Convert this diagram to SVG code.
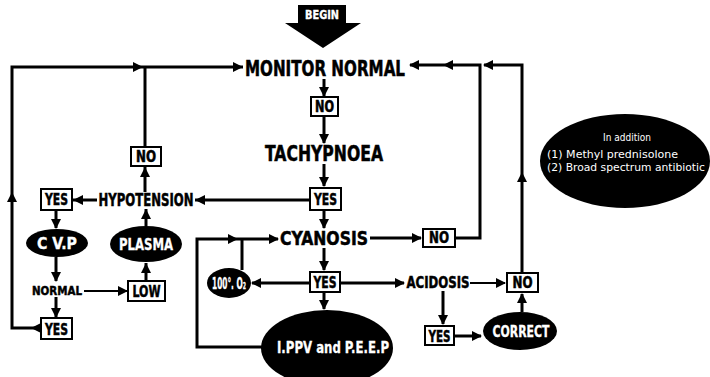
<svg xmlns="http://www.w3.org/2000/svg" xmlns:xlink="http://www.w3.org/1999/xlink" width="710" height="377" viewBox="0 0 710 377">
<style>
.t{font-family:"Liberation Sans Narrow","DejaVu Sans Condensed","Liberation Sans",sans-serif;font-weight:bold;fill:#000;stroke:#000;stroke-width:0.5;text-anchor:middle}
.w{font-family:"Liberation Sans Narrow","DejaVu Sans Condensed","Liberation Sans",sans-serif;font-weight:bold;fill:#fff;stroke:#fff;stroke-width:0.3;text-anchor:middle}
.n{font-family:"Liberation Sans Narrow","DejaVu Sans Condensed","Liberation Sans",sans-serif;fill:#fff}
.box{fill:#fff;stroke:#000;stroke-width:2}
.c{fill:none;stroke:#000;stroke-width:3}
.d{fill:none;stroke:#000;stroke-width:2.2}
</style>
<defs>
<path id="ah" d="M0,0 L-10,-5 L-10,5 Z" fill="#000"/>
</defs>
<rect width="710" height="377" fill="#fff"/>

<g id="begin">
<path d="M298,5 H346 V23 H361 L323,48 L285,23 H298 Z" fill="#000"/>
<text class="w" x="322" y="19" font-size="12" textLength="34" lengthAdjust="spacingAndGlyphs">BEGIN</text>
</g>

<g id="connectors">
<path class="c" d="M40,328 H12 V67 H243"/>
<use href="#ah" transform="translate(31,328) rotate(180)"/>
<use href="#ah" transform="translate(12,192) rotate(-90)"/>
<use href="#ah" transform="translate(143,67)"/>
<use href="#ah" transform="translate(243,67)"/>
<path class="c" d="M145,146 V67"/>
<path class="c" d="M145,192 V167"/>
<use href="#ah" transform="translate(145,167) rotate(-90)"/>
<path class="c" d="M97,200 H73"/>
<use href="#ah" transform="translate(73,200) rotate(180)"/>
<path class="c" d="M310,200 H195"/>
<use href="#ah" transform="translate(195,200) rotate(180)"/>
<path class="c" d="M56,211 V228"/>
<use href="#ah" transform="translate(56,229) rotate(90)"/>
<path class="c" d="M56,257 V281"/>
<use href="#ah" transform="translate(56,282) rotate(90)"/>
<path class="c" d="M56,297 V317"/>
<use href="#ah" transform="translate(56,318) rotate(90)"/>
<path class="d" d="M84,291 H127"/>
<use href="#ah" transform="translate(128,291)"/>
<path class="c" d="M146,281 V263"/>
<use href="#ah" transform="translate(146,263) rotate(-90)"/>
<path class="c" d="M146,226 V209"/>
<use href="#ah" transform="translate(146,209) rotate(-90)"/>
<path class="c" d="M324,79 V96"/>
<use href="#ah" transform="translate(324,97) rotate(90)"/>
<path class="c" d="M324,116 V143"/>
<use href="#ah" transform="translate(324,144) rotate(90)"/>
<path class="c" d="M324,164 V186"/>
<use href="#ah" transform="translate(324,187) rotate(90)"/>
<path class="c" d="M324,211 V228"/>
<use href="#ah" transform="translate(324,229) rotate(90)"/>
<path class="c" d="M324,248 V270"/>
<use href="#ah" transform="translate(324,271) rotate(90)"/>
<path class="c" d="M324,293 V309"/>
<use href="#ah" transform="translate(324,310) rotate(90)"/>
<path class="c" d="M370,238 H421"/>
<use href="#ah" transform="translate(422,238)"/>
<path class="c" d="M455,238 H480 V65 H410"/>
<use href="#ah" transform="translate(409,65) rotate(180)"/>
<use href="#ah" transform="translate(443,65) rotate(180)"/>
<path class="c" d="M522,272 V65 H484"/>
<use href="#ah" transform="translate(522,172) rotate(-90)"/>
<use href="#ah" transform="translate(483,65) rotate(180)"/>
<path class="c" d="M522,312 V294"/>
<use href="#ah" transform="translate(522,293) rotate(-90)"/>
<path class="c" d="M310,283 H252"/>
<use href="#ah" transform="translate(251,283) rotate(180)"/>
<path class="c" d="M340,283 H404"/>
<use href="#ah" transform="translate(405,283)"/>
<path class="d" d="M470,283 H505"/>
<use href="#ah" transform="translate(506,283)"/>
<path class="c" d="M443,291 V324"/>
<use href="#ah" transform="translate(443,325) rotate(90)"/>
<path class="c" d="M454,336 H481"/>
<use href="#ah" transform="translate(482,336)"/>
<path class="c" d="M262,347 H197 V239 H278"/>
<use href="#ah" transform="translate(238,239)"/>
<use href="#ah" transform="translate(279,239)"/>
<path class="c" d="M242,270 V239"/>
</g>

<g id="monitor"><text class="t" x="325" y="76" font-size="21" textLength="160" lengthAdjust="spacingAndGlyphs">MONITOR NORMAL</text></g>
<g id="no1"><rect class="box" x="311" y="97" width="27" height="19"/><text class="t" x="324.5" y="112" font-size="15" textLength="19" lengthAdjust="spacingAndGlyphs">NO</text></g>
<g id="tachypnoea"><text class="t" x="324" y="161" font-size="21" textLength="118" lengthAdjust="spacingAndGlyphs">TACHYPNOEA</text></g>
<g id="yes1"><rect class="box" x="310" y="188" width="31" height="22"/><text class="t" x="325.5" y="205" font-size="16" textLength="23" lengthAdjust="spacingAndGlyphs">YES</text></g>
<g id="hypotension"><text class="t" x="146" y="206" font-size="18" textLength="95" lengthAdjust="spacingAndGlyphs">HYPOTENSION</text></g>
<g id="no2"><rect class="box" x="131" y="147" width="30" height="19"/><text class="t" x="146" y="162" font-size="15" textLength="20" lengthAdjust="spacingAndGlyphs">NO</text></g>
<g id="yes2"><rect class="box" x="41" y="189" width="31" height="21"/><text class="t" x="56.5" y="205" font-size="16" textLength="23" lengthAdjust="spacingAndGlyphs">YES</text></g>
<g id="cvp"><ellipse cx="57" cy="243" rx="31" ry="14" fill="#000"/><text class="w" x="57" y="249" font-size="16" textLength="40" lengthAdjust="spacingAndGlyphs">C V.P</text></g>
<g id="plasma"><ellipse cx="146" cy="244" rx="36" ry="18" fill="#000"/><text class="w" x="146" y="250" font-size="16" textLength="54" lengthAdjust="spacingAndGlyphs">PLASMA</text></g>
<g id="normal"><text class="t" x="57" y="295" font-size="13" textLength="50" lengthAdjust="spacingAndGlyphs">NORMAL</text></g>
<g id="low"><rect class="box" x="128" y="281" width="37" height="20"/><text class="t" x="146.5" y="297" font-size="16" textLength="28" lengthAdjust="spacingAndGlyphs">LOW</text></g>
<g id="yes3"><rect class="box" x="41" y="318" width="31" height="21"/><text class="t" x="56.5" y="335" font-size="16" textLength="23" lengthAdjust="spacingAndGlyphs">YES</text></g>
<g id="cyanosis"><text class="t" x="324" y="245" font-size="20" textLength="88" lengthAdjust="spacingAndGlyphs">CYANOSIS</text></g>
<g id="no3"><rect class="box" x="423" y="229" width="32" height="18"/><text class="t" x="439" y="243" font-size="15" textLength="20" lengthAdjust="spacingAndGlyphs">NO</text></g>
<g id="yes4"><rect class="box" x="310" y="272" width="30" height="20"/><text class="t" x="325" y="288" font-size="16" textLength="23" lengthAdjust="spacingAndGlyphs">YES</text></g>
<g id="oxygen"><ellipse cx="229" cy="283" rx="22" ry="15" fill="#000"/><text class="w" x="229" y="289" font-size="15" textLength="34" lengthAdjust="spacingAndGlyphs">100°. O₂</text></g>
<g id="acidosis"><text class="t" x="438" y="288" font-size="16" textLength="63" lengthAdjust="spacingAndGlyphs">ACIDOSIS</text></g>
<g id="no4"><rect class="box" x="507" y="273" width="31" height="19"/><text class="t" x="522.5" y="288" font-size="15" textLength="20" lengthAdjust="spacingAndGlyphs">NO</text></g>
<g id="yes5"><rect class="box" x="425" y="326" width="29" height="19"/><text class="t" x="439.5" y="342" font-size="16" textLength="22" lengthAdjust="spacingAndGlyphs">YES</text></g>
<g id="correct"><ellipse cx="520" cy="331" rx="37" ry="19" fill="#000"/><text class="w" x="521" y="337" font-size="16" textLength="57" lengthAdjust="spacingAndGlyphs">CORRECT</text></g>
<g id="ippv"><ellipse cx="327" cy="348" rx="66" ry="38" fill="#000"/>
<text class="w" x="333" y="353" font-size="16" textLength="112" lengthAdjust="spacingAndGlyphs">I.PPV and P.E.E.P</text>
</g>
<g id="addition"><ellipse cx="625" cy="161" rx="85" ry="47" fill="#000"/>
<text class="n" x="627" y="141" font-size="10" text-anchor="middle">In addition</text>
<text class="n" x="547" y="158" font-size="10" textLength="131" lengthAdjust="spacingAndGlyphs">(1)  Methyl prednisolone</text>
<text class="n" x="547" y="171" font-size="10" textLength="158" lengthAdjust="spacingAndGlyphs">(2)  Broad spectrum antibiotic</text>
</g>
</svg>
